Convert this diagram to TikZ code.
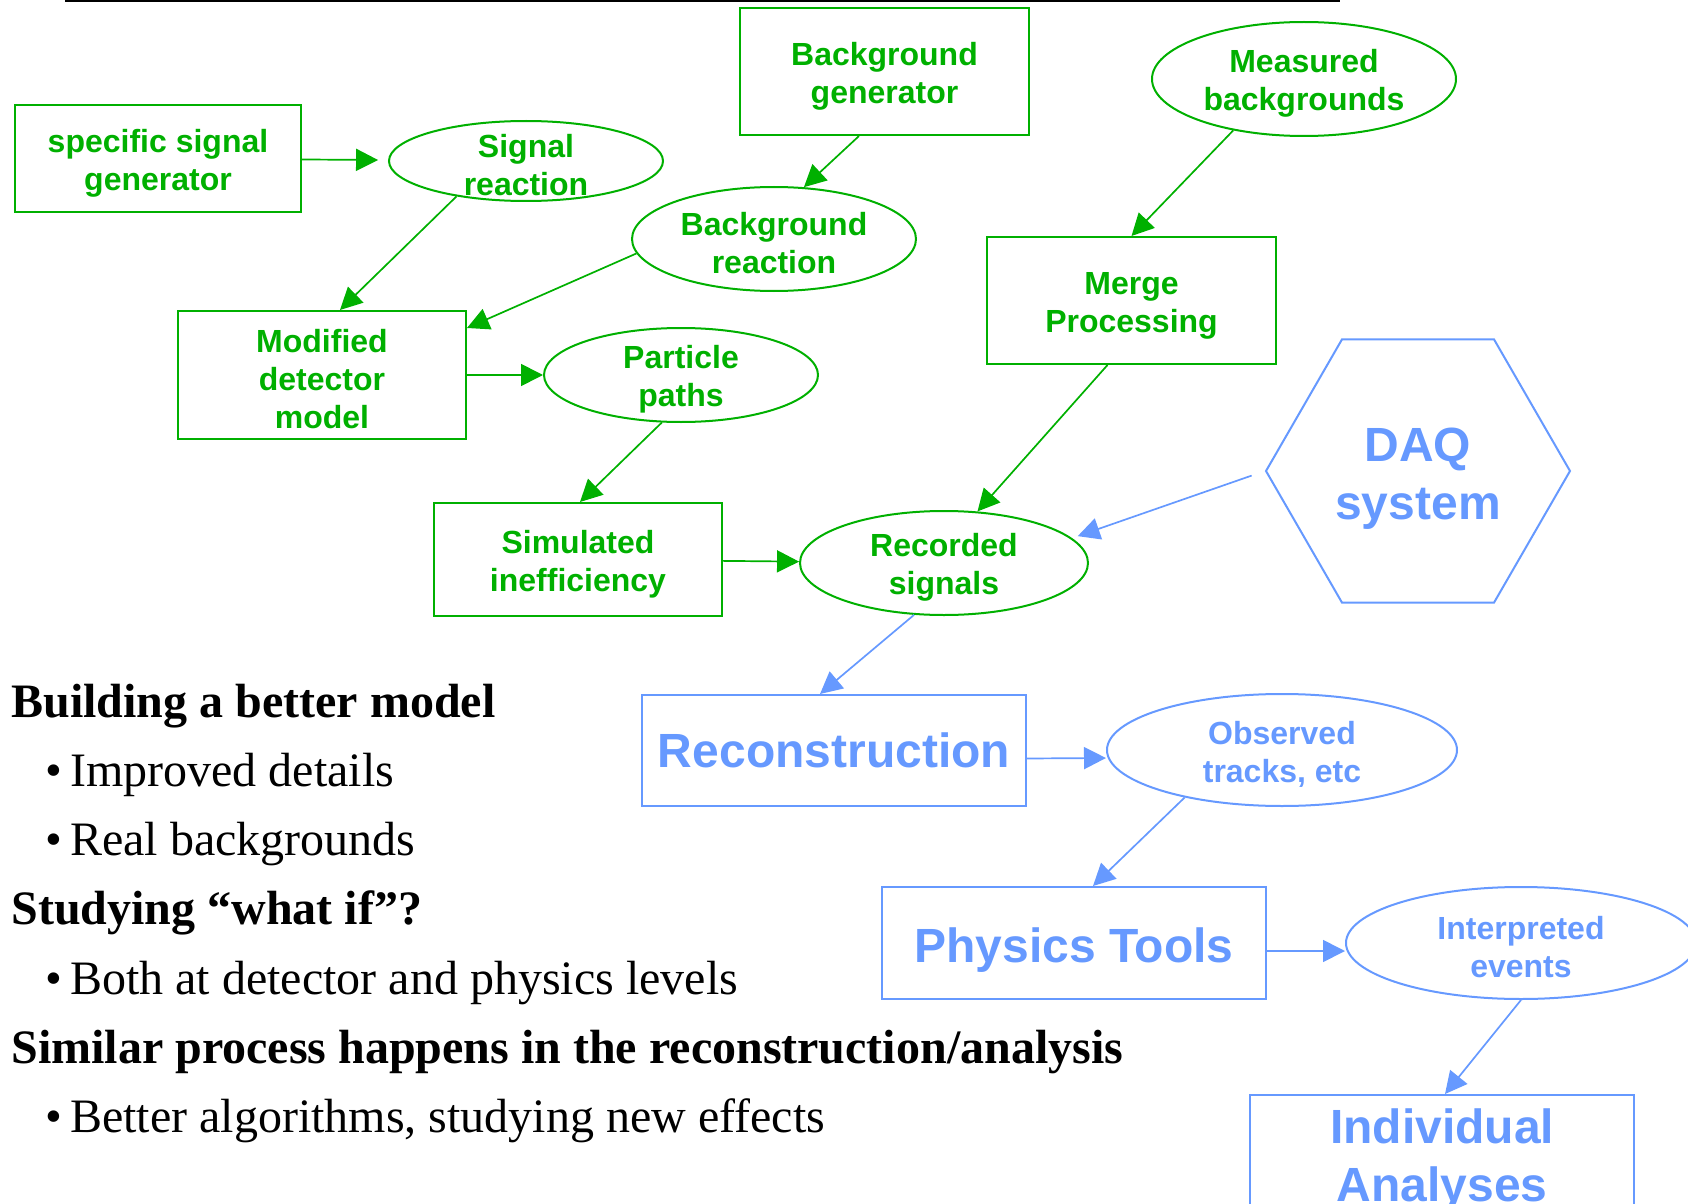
\documentclass[tikz,border=0pt]{standalone}
\usepackage{fontspec}
\setmainfont{Liberation Serif}
\setsansfont{Liberation Sans}
\usepackage{tikz}
\usetikzlibrary{arrows.meta}
\usetikzlibrary{shapes.geometric}

\definecolor{simgreen}{RGB}{0,176,0}
\definecolor{daqblue}{RGB}{102,153,255}
\newcommand{\padtop}{\rule{0pt}{1em}}

\begin{document}
\begin{tikzpicture}[x=0.5pt, y=-0.5pt,
    every node/.style={align=center, inner sep=0pt, font=\sffamily\bfseries\fontsize{16}{19}\selectfont},
    gbox/.style={rectangle, draw=simgreen, text=simgreen, line width=1pt},
    gell/.style={ellipse, draw=simgreen, text=simgreen, line width=1pt, inner sep=-7pt},
    bbox/.style={rectangle, draw=daqblue, text=daqblue, line width=1pt, font=\sffamily\bfseries\fontsize{24}{29}\selectfont},
    bell/.style={ellipse, draw=daqblue, text=daqblue, line width=1pt, inner sep=-7pt},
    hexa/.style={regular polygon, regular polygon sides=6, draw=daqblue, text=daqblue, line width=1pt, font=\sffamily\bfseries\fontsize{24}{29}\selectfont},
    garrow/.style={draw=simgreen, line width=0.85pt, -{Triangle[length=11pt,width=11pt]}},
    barrow/.style={draw=daqblue, line width=0.85pt, -{Triangle[length=11pt,width=11pt]}},
    head/.style={anchor=base west, font=\rmfamily\bfseries\fontsize{24}{29}\selectfont},
    bullettext/.style={anchor=base west, font=\rmfamily\fontsize{24}{29}\selectfont}]
\useasboundingbox (0,0) rectangle (1688,1204);
\draw[line width=2pt] (65,0) -- (1340,0);

\node[gbox, minimum width=143pt, minimum height=53.5pt] (specgen) at (158,158.5) {\padtop specific signal\\generator};
\node[gell, minimum width=137pt, minimum height=40pt] (sigreact) at (526,161) {\padtop Signal\\reaction};
\node[gbox, minimum width=144.5pt, minimum height=63.5pt] (bggen) at (884.5,71.5) {\padtop Background\\generator};
\node[gell, minimum width=152pt, minimum height=57pt] (measbg) at (1304,79) {\padtop Measured\\backgrounds};
\node[gell, minimum width=142pt, minimum height=52pt] (bgreact) at (774,239) {\padtop Background\\reaction};
\node[gbox, minimum width=144.5pt, minimum height=63.5pt] (merge) at (1131.5,300.5) {\padtop Merge\\Processing};
\node[gbox, minimum width=144pt, minimum height=64pt] (moddet) at (322,375) {\padtop Modified\\detector\\model};
\node[gell, minimum width=137pt, minimum height=47pt] (paths) at (681,375) {\padtop Particle\\paths};
\node[hexa, minimum size=152pt] (daq) at (1418,471) {\padtop DAQ\\system};
\node[gbox, minimum width=144pt, minimum height=56.5pt] (ineff) at (578,559.5) {\padtop Simulated\\inefficiency};
\node[gell, minimum width=144pt, minimum height=52pt] (recorded) at (944,563) {\padtop Recorded\\signals};
\node[bbox, minimum width=192pt, minimum height=55.5pt] (reco) at (834,750.5) {Reconstruction};
\node[bell, minimum width=175pt, minimum height=56pt] (tracks) at (1282,750) {\padtop Observed\\tracks, etc};
\node[bbox, minimum width=192pt, minimum height=56pt] (phys) at (1074,943) {\padtop Physics Tools};
\node[bell, minimum width=175pt, minimum height=56pt] (interp) at (1521,943) {\padtop Interpreted\\events};
\node[bbox, minimum width=192pt, minimum height=57pt] (indiv) at (1442,1153) {\padtop Individual\\Analyses};

\draw[garrow, shorten >=5pt] (specgen) -- (sigreact);
\draw[garrow] (sigreact.207) -- ([xshift=9pt]moddet.north);
\draw[garrow] ([xshift=-12.75pt]bggen.south) -- (bgreact.60);
\draw[garrow] (bgreact.186) -- ([yshift=-9pt]moddet.north east);
\draw[garrow] (measbg.216) -- (merge.north);
\draw[garrow] (moddet) -- (paths);
\draw[garrow] (paths.248) -- ([xshift=1pt]ineff.north);
\draw[garrow] ([xshift=-12pt]merge.south) -- (recorded.57);
\draw[garrow] (ineff) -- (recorded);
\draw[barrow, shorten <=7pt, shorten >=3pt] (daq.west) -- (recorded.11);
\draw[barrow] (recorded.240) -- ([xshift=-7pt]reco.north);
\draw[barrow] ([yshift=-4pt]reco.east) -- ([yshift=-4pt]tracks.west);
\draw[barrow] (tracks.206) -- ([xshift=9.5pt]phys.north);
\draw[barrow] ([yshift=-4pt]phys.east) -- ([yshift=-4pt]interp.west);
\draw[barrow] (interp.south) -- ([xshift=1.5pt]indiv.north);

\node[head] (build) at (11,717) {Building a better model};
\node[bullettext] (improved) at (45,786) {\textbullet\hspace{4pt}Improved details};
\node[bullettext] (realbg) at (45,855) {\textbullet\hspace{4pt}Real backgrounds};
\node[head] (whatif) at (11,924) {Studying “what if”?};
\node[bullettext] (levels) at (45,994) {\textbullet\hspace{4pt}Both at detector and physics levels};
\node[head] (similar) at (11,1063) {Similar process happens in the reconstruction/analysis};
\node[bullettext] (better) at (45,1132) {\textbullet\hspace{4pt}Better algorithms, studying new effects};
\end{tikzpicture}
\end{document}
